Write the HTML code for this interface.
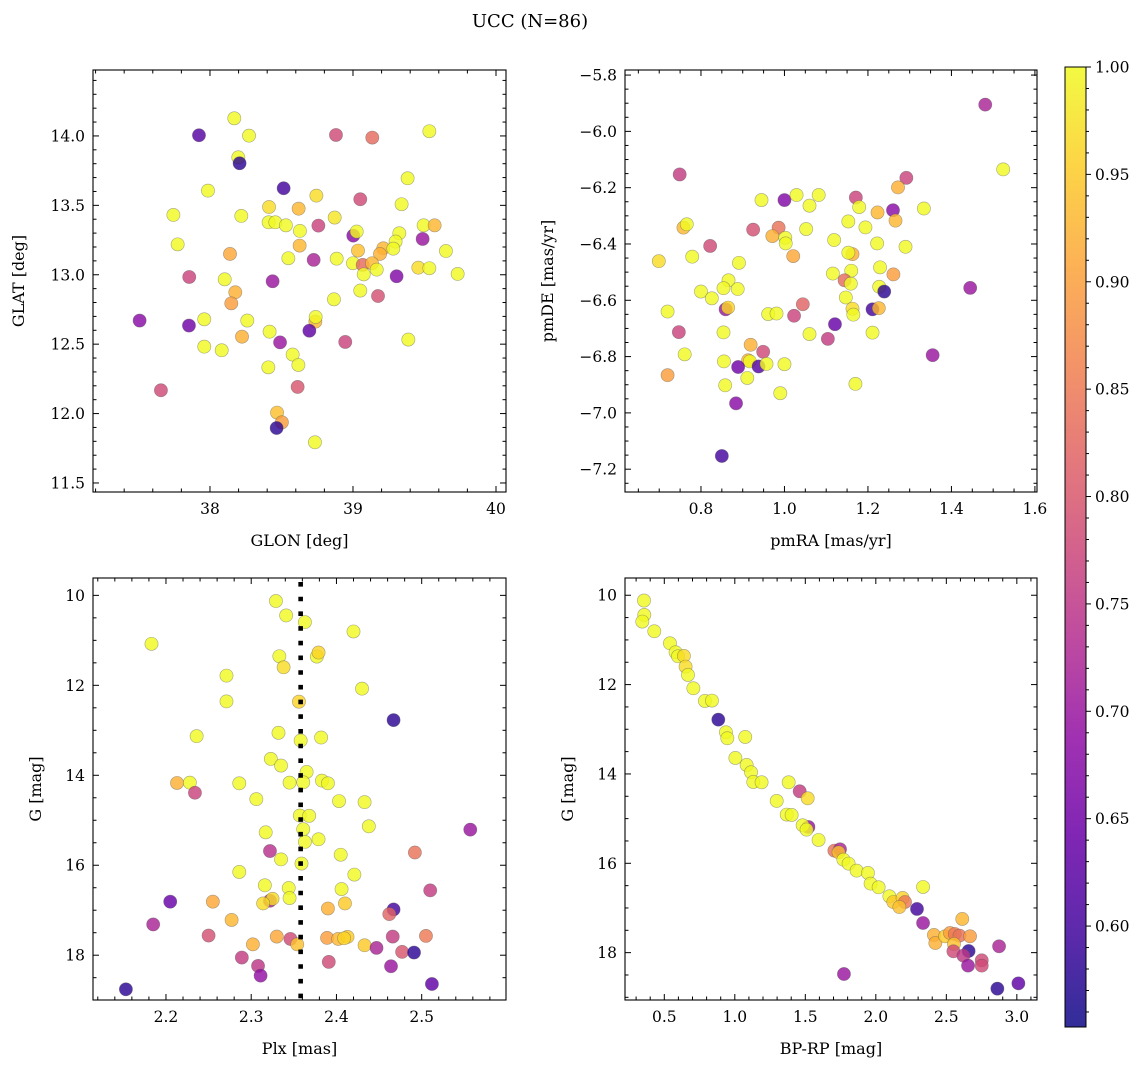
<!DOCTYPE html>
<html><head><meta charset="utf-8"><title>UCC (N=86)</title>
<style>
html,body{margin:0;padding:0;background:#fff;}
svg{display:block;font-family:"DejaVu Serif","Liberation Serif",serif;}
</style></head>
<body>
<svg id="fig" width="1148" height="1067" viewBox="0 0 1148 1067" xmlns="http://www.w3.org/2000/svg">
<rect x="0" y="0" width="1148" height="1067" fill="#fff"/>
<text x="530" y="27" font-size="18" text-anchor="middle" fill="#000">UCC (N=86)</text>
<defs><linearGradient id="cbgrad" x1="0" y1="1" x2="0" y2="0"></linearGradient></defs>
<g id="layer"></g>
</svg>
<script>
// ---- Panel 1: GLON vs GLAT ----
const p1Glon = [38.170,37.923,38.273,38.881,39.135,39.534,38.198,38.207,39.382,37.986,38.515,38.744,39.051,39.340,37.744,38.219,38.413,38.620,38.872,38.410,38.457,38.531,38.758,38.629,39.002,39.026,39.494,39.571,39.324,39.487,37.774,38.627,39.035,39.212,39.298,39.282,39.189,39.650,38.140,38.548,38.725,38.886,39.000,39.068,39.133,39.166,39.075,39.457,39.534,39.732,37.855,38.103,38.438,39.305,38.177,38.149,39.051,39.175,38.867,37.508,37.853,37.960,38.261,38.737,38.739,38.695,38.417,38.224,38.490,38.946,39.387,37.960,38.082,38.578,38.618,38.408,37.657,38.613,38.469,38.503,38.466,38.734];
const p1Glat = [14.127,14.005,14.002,14.007,13.988,14.034,13.846,13.803,13.695,13.606,13.623,13.570,13.544,13.508,13.431,13.424,13.488,13.476,13.412,13.378,13.378,13.356,13.354,13.316,13.282,13.311,13.356,13.356,13.299,13.258,13.219,13.210,13.174,13.191,13.239,13.188,13.150,13.171,13.150,13.119,13.107,13.116,13.083,13.071,13.083,13.037,13.003,13.051,13.047,13.006,12.984,12.967,12.953,12.989,12.874,12.794,12.886,12.847,12.823,12.670,12.634,12.679,12.670,12.662,12.696,12.597,12.590,12.554,12.513,12.516,12.533,12.482,12.456,12.425,12.350,12.333,12.168,12.192,12.007,11.937,11.896,11.793];
const p1Prob = [1,0.62,1,0.78,0.83,1,1,0.58,1,1,0.6,0.97,0.78,1,1,1,0.97,0.93,0.98,1,1,1,0.77,1,0.68,1,1,0.93,1,0.7,1,0.93,0.94,0.93,1,1,0.92,1,0.91,1,0.72,1,1,0.83,0.93,1,1,0.97,1,1,0.77,1,0.7,0.67,0.92,0.9,1,0.79,1,0.68,0.65,1,1,0.93,1,0.63,1,0.92,0.7,0.77,1,1,1,1,1,1,0.78,0.8,0.94,0.9,0.58,1];
// ---- Panel 2: pmRA vs pmDE ----
const p2PmRA = [1.481,1.524,0.749,1.292,1.272,0.945,1.000,1.029,1.082,1.060,1.171,1.179,1.223,1.260,1.334,1.266,1.153,1.194,0.758,0.766,0.925,1.052,0.986,0.971,1.002,1.003,1.119,1.222,1.290,0.822,0.699,0.779,1.021,1.163,1.153,0.891,1.229,1.261,1.116,1.160,1.144,1.159,0.866,0.854,0.888,0.800,0.826,1.227,1.239,1.445,1.147,1.044,0.859,0.865,0.961,0.981,1.023,1.211,1.226,1.163,1.165,0.720,1.121,0.747,0.854,1.060,1.211,1.104,0.761,0.919,0.949,1.355,0.855,0.913,0.917,0.889,0.938,0.957,1.000,0.720,0.911,0.858,1.170,0.990,0.884,0.850];
const p2PmDE = [-5.905,-6.135,-6.153,-6.165,-6.199,-6.244,-6.244,-6.226,-6.226,-6.264,-6.235,-6.269,-6.288,-6.280,-6.274,-6.317,-6.320,-6.341,-6.342,-6.330,-6.349,-6.347,-6.342,-6.372,-6.378,-6.398,-6.386,-6.398,-6.410,-6.407,-6.461,-6.445,-6.443,-6.436,-6.431,-6.467,-6.483,-6.508,-6.505,-6.495,-6.529,-6.541,-6.529,-6.557,-6.560,-6.569,-6.593,-6.552,-6.569,-6.556,-6.590,-6.614,-6.632,-6.626,-6.649,-6.647,-6.655,-6.632,-6.628,-6.630,-6.651,-6.640,-6.685,-6.713,-6.714,-6.720,-6.715,-6.737,-6.792,-6.758,-6.783,-6.795,-6.817,-6.813,-6.817,-6.837,-6.835,-6.826,-6.827,-6.866,-6.876,-6.902,-6.897,-6.930,-6.966,-7.153];
const p2Prob = [0.72,1,0.76,0.77,0.92,1,0.67,1,1,1,0.77,1,0.93,0.68,1,0.93,1,1,0.93,1,0.79,1,0.84,0.92,1,1,1,1,1,0.78,0.97,1,0.91,0.92,1,1,1,0.9,1,1,0.83,1,1,1,1,1,1,1,0.58,0.7,1,0.82,0.7,0.96,1,1,0.77,0.6,0.93,0.97,1,1,0.64,0.77,1,1,1,0.76,1,0.92,0.78,0.7,1,0.93,1,0.65,0.62,1,1,0.9,1,1,1,1,0.68,0.6];
// ---- Panel 3: Plx vs G ----
const p3Plx = [2.329,2.341,2.363,2.420,2.183,2.333,2.377,2.379,2.338,2.271,2.430,2.271,2.356,2.467,2.236,2.332,2.382,2.358,2.323,2.335,2.365,2.213,2.228,2.234,2.286,2.345,2.361,2.383,2.390,2.306,2.403,2.433,2.357,2.368,2.438,2.557,2.317,2.361,2.379,2.363,2.322,2.405,2.492,2.335,2.359,2.286,2.421,2.316,2.344,2.406,2.510,2.205,2.255,2.322,2.325,2.314,2.345,2.410,2.390,2.467,2.462,2.277,2.185,2.250,2.330,2.346,2.302,2.354,2.389,2.402,2.413,2.409,2.433,2.447,2.466,2.505,2.289,2.477,2.491,2.308,2.311,2.391,2.464,2.512,2.153];
const p3G = [10.126,10.446,10.595,10.803,11.078,11.353,11.361,11.271,11.599,11.784,12.074,12.357,12.364,12.773,13.130,13.056,13.160,13.227,13.636,13.784,13.926,14.171,14.164,14.388,14.178,14.164,14.156,14.119,14.178,14.530,14.574,14.597,14.894,14.901,15.134,15.208,15.268,15.199,15.422,15.481,15.684,15.766,15.717,15.870,15.963,16.149,16.208,16.446,16.506,16.530,16.559,16.810,16.810,16.790,16.745,16.849,16.730,16.849,16.961,16.983,17.087,17.216,17.316,17.563,17.586,17.638,17.758,17.758,17.615,17.638,17.593,17.623,17.779,17.838,17.586,17.571,18.052,17.926,17.941,18.238,18.454,18.149,18.246,18.640,18.758];
const p3Prob = [1,1,1,1,1,1,1,0.96,0.97,1,1,1,0.96,0.58,1,1,1,1,1,1,1,0.92,1,0.77,1,1,1,1,1,1,1,1,1,1,1,0.7,1,1,1,1,0.74,1,0.84,1,1,1,1,1,1,1,0.76,0.64,0.91,0.72,0.97,0.97,1,0.95,0.92,0.6,0.82,0.93,0.72,0.79,0.91,0.78,0.92,0.94,0.9,0.93,0.95,0.96,0.95,0.72,0.76,0.85,0.76,0.8,0.58,0.75,0.69,0.78,0.7,0.63,0.58];
const plxMean = 2.358;
// ---- Panel 4: BP-RP vs G ----
const p4Color = [0.356,0.358,0.344,0.429,0.540,0.580,0.597,0.639,0.651,0.668,0.706,0.788,0.838,0.883,0.937,0.947,1.074,1.004,1.084,1.115,1.131,1.190,1.382,1.460,1.517,1.297,1.368,1.403,1.522,1.481,1.509,1.594,1.706,1.746,1.736,1.770,1.807,1.864,1.944,1.963,2.020,2.096,2.335,2.124,2.190,2.207,2.167,2.292,2.335,2.613,2.412,2.422,2.491,2.526,2.560,2.593,2.668,2.554,2.550,2.658,2.621,2.654,2.751,2.751,2.874,1.774,2.862,3.011];
const p4G = [10.119,10.440,10.590,10.806,11.075,11.276,11.366,11.358,11.597,11.784,12.082,12.366,12.358,12.784,13.067,13.201,13.172,13.642,13.799,13.963,14.179,14.187,14.187,14.388,14.545,14.604,14.910,14.918,15.187,15.149,15.246,15.478,15.716,15.687,15.754,15.918,16.007,16.164,16.216,16.455,16.537,16.739,16.530,16.866,16.776,16.866,16.978,17.022,17.336,17.246,17.604,17.784,17.634,17.560,17.582,17.619,17.634,17.806,17.970,17.963,18.067,18.291,18.172,18.291,17.858,18.478,18.806,18.687];
const p4Prob = [1,1,1,1,1,1,1,0.97,0.97,1,1,1,1,0.58,1,1,1,1,1,1,1,1,1,0.76,0.97,1,1,1,0.7,1,1,1,0.84,0.72,0.94,1,1,1,1,1,1,1,1,0.95,0.96,0.85,0.94,0.6,0.7,0.93,0.92,0.92,0.95,0.9,0.85,0.84,0.9,0.94,0.78,0.58,0.75,0.7,0.78,0.78,0.72,0.7,0.58,0.63];
// tick label arrays
const p1XTicks = [38,39,40];
const p1YTicks = [11.5,12.0,12.5,13.0,13.5,14.0];
const p2XTicks = [0.8,1.0,1.2,1.4,1.6];
const p2YTicks = [-7.2,-7.0,-6.8,-6.6,-6.4,-6.2,-6.0,-5.8];
const p3XTicks = [2.2,2.3,2.4,2.5];
const gTicks = [10,12,14,16,18];
const p4XTicks = [0.5,1.0,1.5,2.0,2.5,3.0];
const cbTicks = [0.60,0.65,0.70,0.75,0.80,0.85,0.90,0.95,1.00];
const cMin = 0.553, cMax = 1.0;

const NS = "http://www.w3.org/2000/svg";
const layer = document.getElementById('layer');
function mk(tag, attrs, parent){ const e=document.createElementNS(NS,tag); for(const k in attrs) e.setAttribute(k,attrs[k]); (parent||layer).appendChild(e); return e; }
const plasmaStops = [[13,8,135],[65,4,157],[106,0,168],[143,13,164],[177,42,144],[204,71,120],[225,100,98],[242,132,75],[252,166,54],[252,206,37],[240,249,33]];
function plasma(t){ t=Math.max(0,Math.min(1,t)); const f=t*10, i=Math.min(9,Math.floor(f)), r=f-i; const a=plasmaStops[i], b=plasmaStops[i+1]; return 'rgb('+[0,1,2].map(k=>Math.round(a[k]+(b[k]-a[k])*r)).join(',')+')'; }
function cmap(v){ return plasma((v-cMin)/(cMax-cMin)); }
function fmt(v,d){ return v.toFixed(d).replace('-','\u2212'); }

function panel(cfg){
  const g = mk('g',{});
  
  
  const sx = v => cfg.x0 + (v-cfg.xd[0])/(cfg.xd[1]-cfg.xd[0])*(cfg.x1-cfg.x0);
  const sy = cfg.invert ? (v => cfg.y0 + (v-cfg.yd[0])/(cfg.yd[1]-cfg.yd[0])*(cfg.y1-cfg.y0))
                        : (v => cfg.y1 - (v-cfg.yd[0])/(cfg.yd[1]-cfg.yd[0])*(cfg.y1-cfg.y0));
  // points
  const pts = mk('g',{},g);
  
  
  for(let i=0;i<cfg.xs.length;i++){
    const c = mk('circle',{cx:sx(cfg.xs[i]).toFixed(2),cy:sy(cfg.ys[i]).toFixed(2),r:6.6,fill:cmap(cfg.cs[i]),'fill-opacity':0.82,stroke:'#555','stroke-opacity':0.5,'stroke-width':0.6},pts);
    
    
  }
  if(cfg.vline!==undefined){
    const l = mk('line',{x1:sx(cfg.vline),x2:sx(cfg.vline),y1:cfg.y0+4,y2:cfg.y1,stroke:'#000','stroke-width':4.6,'stroke-dasharray':'4.6 10.1'},g);
    
    
  }
  // ticks
  const tk = mk('g',{stroke:'#000','stroke-width':1},g);
  function rangeTicks(a,b,step){ const out=[]; const s=Math.ceil(a/step-1e-6); for(let k=s;k*step<=b+1e-9;k++) out.push(+(k*step).toFixed(6)); return out; }
  rangeTicks(cfg.xd[0],cfg.xd[1],cfg.xminor).forEach(v=>{ const x=sx(v); const isMaj=Math.abs(v/cfg.xmajor-Math.round(v/cfg.xmajor))<1e-6; const L=isMaj?6:3.5;
    mk('line',{x1:x,x2:x,y1:cfg.y1,y2:cfg.y1-L},tk); mk('line',{x1:x,x2:x,y1:cfg.y0,y2:cfg.y0+L},tk); });
  rangeTicks(Math.min(...cfg.yd),Math.max(...cfg.yd),cfg.yminor).forEach(v=>{ const y=sy(v); const isMaj=Math.abs(v/cfg.ymajor-Math.round(v/cfg.ymajor))<1e-6; const L=isMaj?6:3.5;
    mk('line',{x1:cfg.x0,x2:cfg.x0+L,y1:y,y2:y},tk); mk('line',{x1:cfg.x1,x2:cfg.x1-L,y1:y,y2:y},tk); });
  cfg.xt.forEach(v=>{ const t=mk('text',{x:sx(v),y:cfg.y1+22,'font-size':15.5,'text-anchor':'middle',fill:'#000'},g); t.textContent=fmt(v,cfg.xdec);
      });
  cfg.yt.forEach(v=>{ const t=mk('text',{x:cfg.x0-8,y:sy(v)+5.5,'font-size':15.5,'text-anchor':'end',fill:'#000'},g); t.textContent=fmt(v,cfg.ydec);
      });
  const fr = mk('rect',{x:cfg.x0,y:cfg.y0,width:cfg.x1-cfg.x0,height:cfg.y1-cfg.y0,fill:'none',stroke:'#000','stroke-width':1.1},g);
  
  
  const xl = mk('text',{x:(cfg.x0+cfg.x1)/2,y:cfg.y1+54,'font-size':16,'text-anchor':'middle',fill:'#000'},g); xl.textContent=cfg.xlabel;
   
  const yc=(cfg.y0+cfg.y1)/2;
  const yl = mk('text',{x:cfg.ylx,y:yc,'font-size':16,'text-anchor':'middle',fill:'#000',transform:'rotate(-90 '+cfg.ylx+' '+yc+')'},g); yl.textContent=cfg.ylabel;
   
}

panel({name:'glon-glat-panel',x0:93,x1:506,y0:70,y1:492,xd:[37.182,40.070],yd:[11.435,14.475],xs:p1Glon,ys:p1Glat,cs:p1Prob,
  xmajor:1,xminor:0.2,ymajor:0.5,yminor:0.1,xt:p1XTicks,yt:p1YTicks,xdec:0,ydec:1,xlabel:'GLON [deg]',ylabel:'GLAT [deg]',ylx:24});
panel({name:'pm-panel',x0:625,x1:1037,y0:70,y1:492,xd:[0.618,1.605],yd:[-7.281,-5.782],xs:p2PmRA,ys:p2PmDE,cs:p2Prob,
  xmajor:0.2,xminor:0.05,ymajor:0.2,yminor:0.05,xt:p2XTicks,yt:p2YTicks,xdec:1,ydec:1,xlabel:'pmRA [mas/yr]',ylabel:'pmDE [mas/yr]',ylx:553});
panel({name:'plx-g-panel',x0:93,x1:506,y0:578,y1:1000,xd:[2.1144,2.5989],yd:[9.614,18.996],invert:true,xs:p3Plx,ys:p3G,cs:p3Prob,vline:plxMean,
  xmajor:0.1,xminor:0.02,ymajor:2,yminor:0.5,xt:p3XTicks,yt:gTicks,xdec:1,ydec:0,xlabel:'Plx [mas]',ylabel:'G [mag]',ylx:41});
panel({name:'cmd-panel',x0:625,x1:1037,y0:578,y1:1000,xd:[0.2213,3.143],yd:[9.614,19.06],invert:true,xs:p4Color,ys:p4G,cs:p4Prob,
  xmajor:0.5,xminor:0.1,ymajor:2,yminor:0.5,xt:p4XTicks,yt:gTicks,xdec:1,ydec:0,xlabel:'BP-RP [mag]',ylabel:'G [mag]',ylx:573});

// colorbar
(function(){
  const grad=document.getElementById('cbgrad');
  for(let i=0;i<=40;i++){ const s=document.createElementNS(NS,'stop'); s.setAttribute('offset',(i/40)); s.setAttribute('stop-color',plasma(i/40)); s.setAttribute('stop-opacity',0.85); grad.appendChild(s); }
  const x0=1065,x1=1086,y0=67,y1=1027;
  const sy = v => y1 - (v-cMin)/(cMax-cMin)*(y1-y0);
  const g=mk('g',{});
  
  
  mk('rect',{x:x0,y:y0,width:x1-x0,height:y1-y0,fill:'url(#cbgrad)',stroke:'#000','stroke-width':1},g);
  for(let k=56;k<=100;k++){ const v=k/100; const y=sy(v); const maj=(k%5===0);
    mk('line',{x1:x1,x2:x1+(maj?5:3),y1:y,y2:y,stroke:'#000','stroke-width':1},g); }
  cbTicks.forEach(v=>{ const t=mk('text',{x:1095,y:sy(v)+5.5,'font-size':15.5,fill:'#000'},g); t.textContent=v.toFixed(2);
      });
})();
</script>
</body></html>
